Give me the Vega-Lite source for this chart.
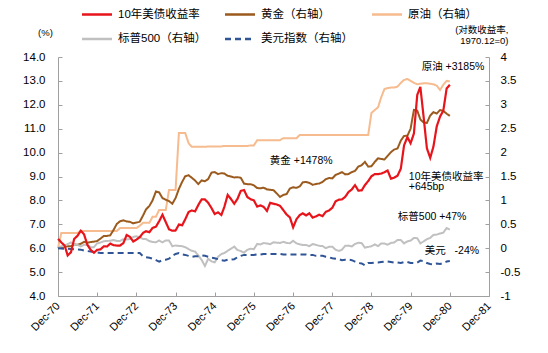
{
  "$schema": "https://vega.github.io/schema/vega-lite/v6.json",
  "width": 431,
  "height": 239,
  "autosize": {"type": "none"},
  "padding": {"left": 58, "top": 57, "right": 59, "bottom": 57},
  "background": "white",
  "data": {"values": [
    {"d":"1970-12-01","y10":6.39,"gold":0,"oil":0,"spx":0,"usd":0},
    {"d":"1971-01-01","y10":6.24,"gold":0.013,"oil":0.32,"spx":0.040,"usd":-0.005},
    {"d":"1971-02-01","y10":6.11,"gold":0.034,"oil":0.32,"spx":0.049,"usd":-0.01},
    {"d":"1971-03-01","y10":5.70,"gold":0.039,"oil":0.32,"spx":0.085,"usd":-0.01},
    {"d":"1971-04-01","y10":5.83,"gold":0.042,"oil":0.32,"spx":0.121,"usd":-0.015},
    {"d":"1971-05-01","y10":6.39,"gold":0.080,"oil":0.32,"spx":0.078,"usd":-0.02},
    {"d":"1971-06-01","y10":6.52,"gold":0.070,"oil":0.32,"spx":0.069,"usd":-0.025},
    {"d":"1971-07-01","y10":6.73,"gold":0.092,"oil":0.36,"spx":0.037,"usd":-0.03},
    {"d":"1971-08-01","y10":6.58,"gold":0.133,"oil":0.36,"spx":0.072,"usd":-0.05},
    {"d":"1971-09-01","y10":6.14,"gold":0.116,"oil":0.36,"spx":0.065,"usd":-0.06},
    {"d":"1971-10-01","y10":5.93,"gold":0.128,"oil":0.36,"spx":0.022,"usd":-0.07},
    {"d":"1971-11-01","y10":5.81,"gold":0.137,"oil":0.36,"spx":0.020,"usd":-0.08},
    {"d":"1971-12-01","y10":5.93,"gold":0.151,"oil":0.36,"spx":0.102,"usd":-0.09},
    {"d":"1972-01-01","y10":5.95,"gold":0.200,"oil":0.36,"spx":0.120,"usd":-0.10},
    {"d":"1972-02-01","y10":6.08,"gold":0.256,"oil":0.36,"spx":0.145,"usd":-0.10},
    {"d":"1972-03-01","y10":6.07,"gold":0.256,"oil":0.36,"spx":0.151,"usd":-0.10},
    {"d":"1972-04-01","y10":6.19,"gold":0.270,"oil":0.36,"spx":0.156,"usd":-0.10},
    {"d":"1972-05-01","y10":6.13,"gold":0.378,"oil":0.36,"spx":0.173,"usd":-0.10},
    {"d":"1972-06-01","y10":6.11,"gold":0.507,"oil":0.36,"spx":0.151,"usd":-0.10},
    {"d":"1972-07-01","y10":6.11,"gold":0.563,"oil":0.42,"spx":0.153,"usd":-0.10},
    {"d":"1972-08-01","y10":6.21,"gold":0.583,"oil":0.42,"spx":0.187,"usd":-0.10},
    {"d":"1972-09-01","y10":6.55,"gold":0.560,"oil":0.42,"spx":0.182,"usd":-0.10},
    {"d":"1972-10-01","y10":6.48,"gold":0.551,"oil":0.42,"spx":0.191,"usd":-0.10},
    {"d":"1972-11-01","y10":6.28,"gold":0.520,"oil":0.42,"spx":0.236,"usd":-0.10},
    {"d":"1972-12-01","y10":6.36,"gold":0.536,"oil":0.42,"spx":0.248,"usd":-0.10},
    {"d":"1973-01-01","y10":6.46,"gold":0.554,"oil":0.47,"spx":0.230,"usd":-0.10},
    {"d":"1973-02-01","y10":6.64,"gold":0.685,"oil":0.53,"spx":0.192,"usd":-0.17},
    {"d":"1973-03-01","y10":6.71,"gold":0.814,"oil":0.53,"spx":0.191,"usd":-0.19},
    {"d":"1973-04-01","y10":6.67,"gold":0.884,"oil":0.53,"spx":0.149,"usd":-0.20},
    {"d":"1973-05-01","y10":6.85,"gold":1.003,"oil":0.66,"spx":0.130,"usd":-0.22},
    {"d":"1973-06-01","y10":6.90,"gold":1.187,"oil":0.66,"spx":0.124,"usd":-0.25},
    {"d":"1973-07-01","y10":7.13,"gold":1.167,"oil":0.80,"spx":0.161,"usd":-0.28},
    {"d":"1973-08-01","y10":7.40,"gold":1.048,"oil":0.80,"spx":0.123,"usd":-0.25},
    {"d":"1973-09-01","y10":7.09,"gold":1.013,"oil":0.80,"spx":0.163,"usd":-0.24},
    {"d":"1973-10-01","y10":6.79,"gold":0.985,"oil":1.22,"spx":0.161,"usd":-0.22},
    {"d":"1973-11-01","y10":6.73,"gold":0.930,"oil":1.22,"spx":0.041,"usd":-0.16},
    {"d":"1973-12-01","y10":6.74,"gold":1.048,"oil":1.22,"spx":0.057,"usd":-0.12},
    {"d":"1974-01-01","y10":6.99,"gold":1.240,"oil":2.41,"spx":0.047,"usd":-0.10},
    {"d":"1974-02-01","y10":6.96,"gold":1.390,"oil":2.41,"spx":0.043,"usd":-0.13},
    {"d":"1974-03-01","y10":7.21,"gold":1.505,"oil":2.41,"spx":0.020,"usd":-0.14},
    {"d":"1974-04-01","y10":7.51,"gold":1.527,"oil":2.20,"spx":-0.020,"usd":-0.16},
    {"d":"1974-05-01","y10":7.58,"gold":1.474,"oil":2.12,"spx":-0.054,"usd":-0.18},
    {"d":"1974-06-01","y10":7.54,"gold":1.416,"oil":2.12,"spx":-0.069,"usd":-0.17},
    {"d":"1974-07-01","y10":7.81,"gold":1.341,"oil":2.12,"spx":-0.150,"usd":-0.17},
    {"d":"1974-08-01","y10":8.04,"gold":1.419,"oil":2.12,"spx":-0.245,"usd":-0.15},
    {"d":"1974-09-01","y10":8.04,"gold":1.401,"oil":2.12,"spx":-0.372,"usd":-0.16},
    {"d":"1974-10-01","y10":7.90,"gold":1.446,"oil":2.13,"spx":-0.221,"usd":-0.18},
    {"d":"1974-11-01","y10":7.68,"gold":1.581,"oil":2.13,"spx":-0.275,"usd":-0.20},
    {"d":"1974-12-01","y10":7.43,"gold":1.592,"oil":2.13,"spx":-0.296,"usd":-0.21},
    {"d":"1975-01-01","y10":7.50,"gold":1.551,"oil":2.13,"spx":-0.180,"usd":-0.23},
    {"d":"1975-02-01","y10":7.39,"gold":1.569,"oil":2.13,"spx":-0.122,"usd":-0.25},
    {"d":"1975-03-01","y10":7.73,"gold":1.561,"oil":2.14,"spx":-0.100,"usd":-0.26},
    {"d":"1975-04-01","y10":8.23,"gold":1.514,"oil":2.14,"spx":-0.054,"usd":-0.24},
    {"d":"1975-05-01","y10":8.06,"gold":1.499,"oil":2.14,"spx":-0.011,"usd":-0.24},
    {"d":"1975-06-01","y10":7.86,"gold":1.479,"oil":2.14,"spx":0.033,"usd":-0.23},
    {"d":"1975-07-01","y10":8.06,"gold":1.486,"oil":2.14,"spx":-0.038,"usd":-0.19},
    {"d":"1975-08-01","y10":8.40,"gold":1.473,"oil":2.14,"spx":-0.059,"usd":-0.16},
    {"d":"1975-09-01","y10":8.43,"gold":1.349,"oil":2.14,"spx":-0.094,"usd":-0.14},
    {"d":"1975-10-01","y10":8.14,"gold":1.340,"oil":2.14,"spx":-0.034,"usd":-0.14},
    {"d":"1975-11-01","y10":8.05,"gold":1.339,"oil":2.15,"spx":-0.010,"usd":-0.14},
    {"d":"1975-12-01","y10":8.00,"gold":1.315,"oil":2.15,"spx":-0.022,"usd":-0.14},
    {"d":"1976-01-01","y10":7.74,"gold":1.258,"oil":2.26,"spx":0.090,"usd":-0.13},
    {"d":"1976-02-01","y10":7.79,"gold":1.255,"oil":2.26,"spx":0.079,"usd":-0.13},
    {"d":"1976-03-01","y10":7.73,"gold":1.266,"oil":2.26,"spx":0.109,"usd":-0.12},
    {"d":"1976-04-01","y10":7.56,"gold":1.230,"oil":2.26,"spx":0.098,"usd":-0.12},
    {"d":"1976-05-01","y10":7.90,"gold":1.222,"oil":2.26,"spx":0.084,"usd":-0.12},
    {"d":"1976-06-01","y10":7.86,"gold":1.213,"oil":2.26,"spx":0.124,"usd":-0.12},
    {"d":"1976-07-01","y10":7.83,"gold":1.147,"oil":2.26,"spx":0.116,"usd":-0.12},
    {"d":"1976-08-01","y10":7.77,"gold":1.072,"oil":2.26,"spx":0.110,"usd":-0.12},
    {"d":"1976-09-01","y10":7.59,"gold":1.115,"oil":2.30,"spx":0.133,"usd":-0.13},
    {"d":"1976-10-01","y10":7.41,"gold":1.132,"oil":2.30,"spx":0.110,"usd":-0.13},
    {"d":"1976-11-01","y10":7.29,"gold":1.250,"oil":2.30,"spx":0.103,"usd":-0.13},
    {"d":"1976-12-01","y10":6.87,"gold":1.275,"oil":2.30,"spx":0.154,"usd":-0.13},
    {"d":"1977-01-01","y10":7.21,"gold":1.263,"oil":2.30,"spx":0.102,"usd":-0.13},
    {"d":"1977-02-01","y10":7.39,"gold":1.293,"oil":2.37,"spx":0.080,"usd":-0.13},
    {"d":"1977-03-01","y10":7.46,"gold":1.378,"oil":2.37,"spx":0.066,"usd":-0.13},
    {"d":"1977-04-01","y10":7.37,"gold":1.385,"oil":2.37,"spx":0.066,"usd":-0.13},
    {"d":"1977-05-01","y10":7.46,"gold":1.367,"oil":2.37,"spx":0.042,"usd":-0.14},
    {"d":"1977-06-01","y10":7.28,"gold":1.326,"oil":2.37,"spx":0.087,"usd":-0.14},
    {"d":"1977-07-01","y10":7.33,"gold":1.343,"oil":2.37,"spx":0.070,"usd":-0.16},
    {"d":"1977-08-01","y10":7.40,"gold":1.354,"oil":2.37,"spx":0.049,"usd":-0.16},
    {"d":"1977-09-01","y10":7.34,"gold":1.385,"oil":2.37,"spx":0.046,"usd":-0.16},
    {"d":"1977-10-01","y10":7.52,"gold":1.443,"oil":2.37,"spx":0.002,"usd":-0.18},
    {"d":"1977-11-01","y10":7.58,"gold":1.470,"oil":2.37,"spx":0.029,"usd":-0.19},
    {"d":"1977-12-01","y10":7.69,"gold":1.460,"oil":2.37,"spx":0.032,"usd":-0.21},
    {"d":"1978-01-01","y10":7.96,"gold":1.533,"oil":2.37,"spx":-0.032,"usd":-0.22},
    {"d":"1978-02-01","y10":8.03,"gold":1.561,"oil":2.37,"spx":-0.057,"usd":-0.23},
    {"d":"1978-03-01","y10":8.04,"gold":1.592,"oil":2.37,"spx":-0.032,"usd":-0.25},
    {"d":"1978-04-01","y10":8.15,"gold":1.544,"oil":2.37,"spx":0.050,"usd":-0.24},
    {"d":"1978-05-01","y10":8.35,"gold":1.551,"oil":2.37,"spx":0.054,"usd":-0.24},
    {"d":"1978-06-01","y10":8.46,"gold":1.592,"oil":2.37,"spx":0.036,"usd":-0.25},
    {"d":"1978-07-01","y10":8.64,"gold":1.618,"oil":2.37,"spx":0.089,"usd":-0.28},
    {"d":"1978-08-01","y10":8.41,"gold":1.708,"oil":2.37,"spx":0.114,"usd":-0.31},
    {"d":"1978-09-01","y10":8.42,"gold":1.737,"oil":2.37,"spx":0.107,"usd":-0.32},
    {"d":"1978-10-01","y10":8.64,"gold":1.805,"oil":2.37,"spx":0.011,"usd":-0.36},
    {"d":"1978-11-01","y10":8.81,"gold":1.707,"oil":2.37,"spx":0.027,"usd":-0.31},
    {"d":"1978-12-01","y10":9.01,"gold":1.715,"oil":2.83,"spx":0.042,"usd":-0.31},
    {"d":"1979-01-01","y10":9.10,"gold":1.805,"oil":2.89,"spx":0.081,"usd":-0.30},
    {"d":"1979-02-01","y10":9.10,"gold":1.882,"oil":2.95,"spx":0.044,"usd":-0.30},
    {"d":"1979-03-01","y10":9.12,"gold":1.868,"oil":3.15,"spx":0.098,"usd":-0.29},
    {"d":"1979-04-01","y10":9.18,"gold":1.856,"oil":3.33,"spx":0.099,"usd":-0.28},
    {"d":"1979-05-01","y10":9.25,"gold":1.931,"oil":3.35,"spx":0.073,"usd":-0.28},
    {"d":"1979-06-01","y10":8.91,"gold":2.010,"oil":3.36,"spx":0.110,"usd":-0.29},
    {"d":"1979-07-01","y10":8.95,"gold":2.064,"oil":3.36,"spx":0.119,"usd":-0.30},
    {"d":"1979-08-01","y10":9.03,"gold":2.085,"oil":3.38,"spx":0.171,"usd":-0.30},
    {"d":"1979-09-01","y10":9.33,"gold":2.251,"oil":3.46,"spx":0.171,"usd":-0.31},
    {"d":"1979-10-01","y10":10.30,"gold":2.349,"oil":3.52,"spx":0.100,"usd":-0.29},
    {"d":"1979-11-01","y10":10.65,"gold":2.351,"oil":3.54,"spx":0.142,"usd":-0.29},
    {"d":"1979-12-01","y10":10.39,"gold":2.499,"oil":3.50,"spx":0.158,"usd":-0.31},
    {"d":"1980-01-01","y10":10.80,"gold":2.893,"oil":3.46,"spx":0.214,"usd":-0.31},
    {"d":"1980-02-01","y10":12.41,"gold":2.879,"oil":3.43,"spx":0.210,"usd":-0.30},
    {"d":"1980-03-01","y10":12.75,"gold":2.695,"oil":3.44,"spx":0.102,"usd":-0.26},
    {"d":"1980-04-01","y10":11.47,"gold":2.627,"oil":3.45,"spx":0.143,"usd":-0.27},
    {"d":"1980-05-01","y10":10.18,"gold":2.620,"oil":3.45,"spx":0.188,"usd":-0.31},
    {"d":"1980-06-01","y10":9.78,"gold":2.776,"oil":3.44,"spx":0.215,"usd":-0.33},
    {"d":"1980-07-01","y10":10.25,"gold":2.846,"oil":3.43,"spx":0.278,"usd":-0.34},
    {"d":"1980-08-01","y10":11.10,"gold":2.818,"oil":3.40,"spx":0.284,"usd":-0.32},
    {"d":"1980-09-01","y10":11.51,"gold":2.891,"oil":3.31,"spx":0.309,"usd":-0.33},
    {"d":"1980-10-01","y10":11.75,"gold":2.872,"oil":3.42,"spx":0.325,"usd":-0.31},
    {"d":"1980-11-01","y10":12.68,"gold":2.814,"oil":3.50,"spx":0.422,"usd":-0.28},
    {"d":"1980-12-01","y10":12.84,"gold":2.767,"oil":3.49,"spx":0.388,"usd":-0.27}
  ]},
  "layer": [
    {
      "transform": [{"fold": ["oil", "gold", "spx", "usd"], "as": ["s", "v"]}],
      "mark": {"type": "line", "strokeWidth": 2},
      "encoding": {
        "x": {"field": "d", "type": "temporal",
          "scale": {"type": "utc", "domain": [28857600000, 376012800000]},
          "axis": {"title": null, "grid": false, "labelExpr": "utcFormat(datum.value, '%b-%y')", "labelAngle": -45, "labelAlign": "right", "labelBaseline": "middle",
            "labelFontSize": 11, "labelPadding": 12, "tickSize": -4, "labelOverlap": false, "labelFlush": false, "labelBound": false,
            "values": [28857600000, 60393600000, 92016000000, 123552000000, 155088000000, 186624000000, 218246400000, 249782400000, 281318400000, 312854400000, 344476800000, 376012800000]}},
        "y": {"field": "v", "type": "quantitative",
          "scale": {"domain": [-1, 4], "zero": false, "nice": false},
          "axis": {"orient": "right", "grid": false, "values": [-1, -0.5, 0, 0.5, 1, 1.5, 2, 2.5, 3, 3.5, 4],
            "labelExpr": "'' + datum.value", "labelFontSize": 11.5, "labelPadding": 15, "tickSize": -4,
            "title": ["(对数收益率,", "1970.12=0)"], "titleAngle": 0, "titleX": 19, "titleY": -23,
            "titleAlign": "right", "titleBaseline": "bottom", "titleFontSize": 9.5, "titleFontWeight": "normal", "titleLineHeight": 11}},
        "color": {"field": "s", "type": "nominal",
          "scale": {"domain": ["y10", "gold", "oil", "spx", "usd"], "range": ["#E8141B", "#9C5B1E", "#F6BB8E", "#C0C0C0", "#2F5597"]},
          "legend": {"title": null, "orient": "none", "legendX": 22.5, "legendY": -49.5, "direction": "horizontal", "columns": 3,
            "columnPadding": 17, "rowPadding": 10.5, "clipHeight": 14, "symbolType": "stroke", "symbolSize": 900, "symbolStrokeWidth": 2.5,
            "labelFontSize": 11.5, "labelOffset": 4.5, "padding": 0,
            "labelExpr": "{'y10':'10年美债收益率','gold':'黄金（右轴）','oil':'原油（右轴）','spx':'标普500（右轴）','usd':'美元指数（右轴）'}[datum.label]"}},
        "strokeDash": {"field": "s", "type": "nominal",
          "scale": {"domain": ["y10", "gold", "oil", "spx", "usd"], "range": [[1, 0], [1, 0], [1, 0], [1, 0], [6, 4]]},
          "legend": {"title": null, "orient": "none", "legendX": 22.5, "legendY": -49.5, "direction": "horizontal", "columns": 3,
            "columnPadding": 17, "rowPadding": 10.5, "clipHeight": 14, "symbolType": "stroke", "symbolSize": 900, "symbolStrokeWidth": 2.5,
            "labelFontSize": 11.5, "labelOffset": 4.5, "padding": 0,
            "labelExpr": "{'y10':'10年美债收益率','gold':'黄金（右轴）','oil':'原油（右轴）','spx':'标普500（右轴）','usd':'美元指数（右轴）'}[datum.label]"}}
      }
    },
    {
      "transform": [{"fold": ["y10"], "as": ["s", "v"]}],
      "mark": {"type": "line", "strokeWidth": 2.2},
      "encoding": {
        "x": {"field": "d", "type": "temporal",
          "scale": {"type": "utc", "domain": [28857600000, 376012800000]},
          "axis": {"title": null, "grid": false, "labelExpr": "utcFormat(datum.value, '%b-%y')", "labelAngle": -45, "labelAlign": "right", "labelBaseline": "middle",
            "labelFontSize": 11, "labelPadding": 12, "tickSize": -4, "labelOverlap": false, "labelFlush": false, "labelBound": false,
            "values": [28857600000, 60393600000, 92016000000, 123552000000, 155088000000, 186624000000, 218246400000, 249782400000, 281318400000, 312854400000, 344476800000, 376012800000]}},
        "y": {"field": "v", "type": "quantitative",
          "scale": {"domain": [4, 14], "zero": false, "nice": false},
          "axis": {"orient": "left", "grid": false, "values": [4, 5, 6, 7, 8, 9, 10, 11, 12, 13, 14], "format": ".1f",
            "labelFontSize": 11.5, "labelPadding": 17, "tickSize": -4,
            "title": "(%)", "titleAngle": 0, "titleX": -13, "titleY": -25, "titleAlign": "center", "titleBaseline": "middle",
            "titleFontSize": 9.5, "titleFontWeight": "normal"}},
        "color": {"field": "s", "type": "nominal",
          "scale": {"domain": ["y10", "gold", "oil", "spx", "usd"], "range": ["#E8141B", "#9C5B1E", "#F6BB8E", "#C0C0C0", "#2F5597"]},
          "legend": {"title": null, "orient": "none", "legendX": 22.5, "legendY": -49.5, "direction": "horizontal", "columns": 3,
            "columnPadding": 17, "rowPadding": 10.5, "clipHeight": 14, "symbolType": "stroke", "symbolSize": 900, "symbolStrokeWidth": 2.5,
            "labelFontSize": 11.5, "labelOffset": 4.5, "padding": 0,
            "labelExpr": "{'y10':'10年美债收益率','gold':'黄金（右轴）','oil':'原油（右轴）','spx':'标普500（右轴）','usd':'美元指数（右轴）'}[datum.label]"}},
        "strokeDash": {"field": "s", "type": "nominal",
          "scale": {"domain": ["y10", "gold", "oil", "spx", "usd"], "range": [[1, 0], [1, 0], [1, 0], [1, 0], [6, 4]]},
          "legend": {"title": null, "orient": "none", "legendX": 22.5, "legendY": -49.5, "direction": "horizontal", "columns": 3,
            "columnPadding": 17, "rowPadding": 10.5, "clipHeight": 14, "symbolType": "stroke", "symbolSize": 900, "symbolStrokeWidth": 2.5,
            "labelFontSize": 11.5, "labelOffset": 4.5, "padding": 0,
            "labelExpr": "{'y10':'10年美债收益率','gold':'黄金（右轴）','oil':'原油（右轴）','spx':'标普500（右轴）','usd':'美元指数（右轴）'}[datum.label]"}}
      }
    },
    {
      "data": {"values": [
        {"d": "1980-03-13", "v": 3.80, "t": "原油 +3185%"},
        {"d": "1976-04-28", "v": 1.824, "t": "黄金 +1478%"},
        {"d": "1979-11-15", "v": 1.496, "t": "10年美债收益率"},
        {"d": "1979-11-15", "v": 1.274, "t": "+645bp"},
        {"d": "1979-08-04", "v": 0.659, "t": "标普500 +47%"},
        {"d": "1980-04-12", "v": -0.059, "t": "美元\u00a0\u00a0\u00a0-24%"}
      ]},
      "mark": {"type": "text", "align": "left", "baseline": "middle", "fontSize": 10.5, "color": "#000"},
      "encoding": {
        "x": {"field": "d", "type": "temporal",
          "scale": {"type": "utc", "domain": [28857600000, 376012800000]},
          "axis": {"title": null, "grid": false, "labelExpr": "utcFormat(datum.value, '%b-%y')", "labelAngle": -45, "labelAlign": "right", "labelBaseline": "middle",
            "labelFontSize": 11, "labelPadding": 12, "tickSize": -4, "labelOverlap": false, "labelFlush": false, "labelBound": false,
            "values": [28857600000, 60393600000, 92016000000, 123552000000, 155088000000, 186624000000, 218246400000, 249782400000, 281318400000, 312854400000, 344476800000, 376012800000]}},
        "y": {"field": "v", "type": "quantitative", "scale": {"domain": [-1, 4], "zero": false, "nice": false}, "axis": null},
        "text": {"field": "t"}
      }
    }
  ],
  "resolve": {"scale": {"y": "independent"}},
  "config": {
    "view": {"stroke": null},
    "font": "Liberation Sans, Noto Sans CJK SC, sans-serif",
    "axis": {"domainColor": "#A0A0A0", "tickColor": "#A0A0A0", "labelColor": "#000", "titleColor": "#000",
      "labelFont": "Liberation Sans, Noto Sans CJK SC, sans-serif", "titleFont": "Liberation Sans, Noto Sans CJK SC, sans-serif"},
    "axisX": {"labelOverlap": false, "labelFlush": false},
    "legend": {"labelColor": "#000", "labelFont": "Liberation Sans, Noto Sans CJK SC, sans-serif"},
    "text": {"font": "Liberation Sans, Noto Sans CJK SC, sans-serif"}
  }
}
